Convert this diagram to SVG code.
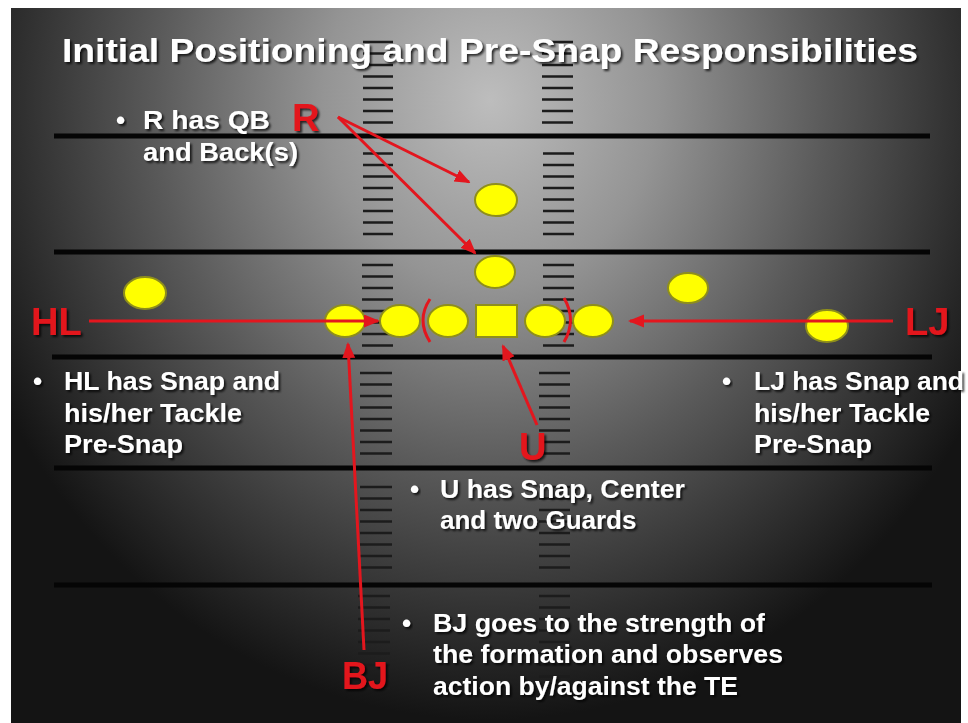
<svg xmlns="http://www.w3.org/2000/svg" width="968" height="723" viewBox="0 0 968 723">
<defs>
  <radialGradient id="bg" gradientUnits="userSpaceOnUse" cx="490" cy="100" r="620" gradientTransform="translate(490 100) scale(0.9 1) translate(-490 -100)">
    <stop offset="0" stop-color="#bdbdbd"/>
    <stop offset="0.3" stop-color="#949494"/>
    <stop offset="0.6" stop-color="#5a5a5a"/>
    <stop offset="0.85" stop-color="#2e2e2e"/>
    <stop offset="1" stop-color="#141414"/>
  </radialGradient>
  <filter id="sh" x="-10%" y="-20%" width="120%" height="150%">
    <feDropShadow dx="2" dy="2" stdDeviation="1.2" flood-color="#000" flood-opacity="0.75"/>
  </filter>
  <marker id="ah" markerUnits="userSpaceOnUse" markerWidth="18" markerHeight="14" refX="14" refY="6.5" orient="auto">
    <path d="M0,0 L16,6.5 L0,13 Z" fill="#e3161e"/>
  </marker>
  <style>
    .yard{stroke:#050505;stroke-width:5}
    .hash{stroke:#1c1c1c;stroke-width:2.5}
    .pl{fill:#ffff00;stroke:#8e8e1c;stroke-width:2}
    .body{font-family:"Liberation Sans",Arial,sans-serif;font-weight:bold;font-size:26px;fill:#ffffff;filter:url(#sh)}
    .lbl{font-family:"Liberation Sans",Arial,sans-serif;font-weight:bold;font-size:38px;fill:#e3161e;filter:url(#sh)}
    .title{font-family:"Liberation Sans",Arial,sans-serif;font-weight:bold;font-size:34px;fill:#ffffff;filter:url(#sh)}
    .con{stroke:#e3161e;stroke-width:3;fill:none}
    .brk{stroke:#e3161e;stroke-width:3;fill:none}
  </style>
</defs>

<rect x="0" y="0" width="968" height="723" fill="#ffffff"/>
<rect x="11" y="8" width="950" height="715" fill="url(#bg)"/>

<g id="field">
  <line class="yard" x1="54" y1="136" x2="930" y2="136"/>
  <line class="yard" x1="54" y1="252" x2="930" y2="252"/>
  <line class="yard" x1="52" y1="357" x2="932" y2="357"/>
  <line class="yard" x1="54" y1="468" x2="932" y2="468"/>
  <line class="yard" x1="54" y1="585" x2="932" y2="585"/>
  <g id="hash-left">
    <path class="hash" d="M363,42H393M363,53.5H393M363,65H393M363,76.5H393M363,88H393M363,99.5H393M363,111H393M363,122.5H393
    M363,153.5H393M363,165H393M363,176.5H393M363,188H393M363,199.5H393M363,211H393M363,222.5H393M363,234H393
    M362,265H393M362,276.5H393M362,288H393M362,299.5H393M362,311H393M362,322.5H393M362,334H393M362,345.5H393
    M360,373H392M360,384.5H392M360,396H392M360,407.5H392M360,419H392M360,430.5H392M360,442H392M360,453.5H392
    M360,487H392M360,498.5H392M360,510H392M360,521.5H392M360,533H392M360,544.5H392M360,556H392M360,567.5H392
    M358,596H390M358,607.5H390M358,619H390M358,630.5H390M358,642H390M358,653.5H390M358,665H390M358,676.5H390M358,688H390"/>
  </g>
  <g id="hash-right">
    <path class="hash" d="M542,42H573M542,53.5H573M542,65H573M542,76.5H573M542,88H573M542,99.5H573M542,111H573M542,122.5H573
    M543,153.5H574M543,165H574M543,176.5H574M543,188H574M543,199.5H574M543,211H574M543,222.5H574M543,234H574
    M543,265H574M543,276.5H574M543,288H574M543,299.5H574M543,311H574M543,322.5H574M543,334H574M543,345.5H574
    M539,373H570M539,384.5H570M539,396H570M539,407.5H570M539,419H570M539,430.5H570M539,442H570M539,453.5H570
    M539,487H570M539,498.5H570M539,510H570M539,521.5H570M539,533H570M539,544.5H570M539,556H570M539,567.5H570
    M539,596H570M539,607.5H570M539,619H570M539,630.5H570M539,642H570M539,653.5H570M539,665H570M539,676.5H570"/>
  </g>
</g>

<g id="title"><text class="title" x="62" y="62" textLength="856" lengthAdjust="spacingAndGlyphs">Initial Positioning and Pre-Snap Responsibilities</text></g>

<g id="players">
  <g id="qb"><ellipse class="pl" cx="496" cy="200" rx="21" ry="16"/></g>
  <g id="back"><ellipse class="pl" cx="495" cy="272" rx="20" ry="16"/></g>
  <g id="wr-left"><ellipse class="pl" cx="145" cy="293" rx="21" ry="16"/></g>
  <g id="wr-right"><ellipse class="pl" cx="688" cy="288" rx="20" ry="15"/></g>
  <g id="te"><ellipse class="pl" cx="345" cy="321" rx="20" ry="16"/></g>
  <g id="tackle-left"><ellipse class="pl" cx="400" cy="321" rx="20" ry="16"/></g>
  <g id="guard-left"><ellipse class="pl" cx="448" cy="321" rx="20" ry="16"/></g>
  <g id="center"><rect class="pl" x="476" y="305" width="41" height="32"/></g>
  <g id="guard-right"><ellipse class="pl" cx="545" cy="321" rx="20" ry="16"/></g>
  <g id="tackle-right"><ellipse class="pl" cx="593" cy="321" rx="20" ry="16"/></g>
  <g id="end-right"><ellipse class="pl" cx="827" cy="326" rx="21" ry="16"/></g>
  <g id="brackets">
    <path class="brk" d="M430,299 Q416,320 430,342"/>
    <path class="brk" d="M564,298 Q577,320 564,342"/>
  </g>
</g>

<g id="labels">
  <g id="lbl-R"><text class="lbl" x="292" y="131">R</text></g>
  <g id="lbl-HL"><text class="lbl" x="31" y="335">HL</text></g>
  <g id="lbl-LJ"><text class="lbl" x="905" y="335">LJ</text></g>
  <g id="lbl-U"><text class="lbl" x="519" y="460">U</text></g>
  <g id="lbl-BJ"><text class="lbl" x="342" y="689" textLength="46" lengthAdjust="spacingAndGlyphs">BJ</text></g>
</g>

<g id="connectors">
  <line class="con" x1="338" y1="117" x2="469" y2="182" marker-end="url(#ah)"/>
  <line class="con" x1="338" y1="117" x2="475" y2="253" marker-end="url(#ah)"/>
  <line class="con" x1="89" y1="321" x2="378" y2="321" marker-end="url(#ah)"/>
  <line class="con" x1="893" y1="321" x2="630" y2="321" marker-end="url(#ah)"/>
  <line class="con" x1="537" y1="425" x2="503" y2="346" marker-end="url(#ah)"/>
  <line class="con" x1="364" y1="650" x2="348" y2="344" marker-end="url(#ah)"/>
</g>

<g id="note-R">
  <text class="body" x="116" y="129">•</text>
  <text class="body" x="143" y="129" textLength="127" lengthAdjust="spacingAndGlyphs">R has QB</text>
  <text class="body" x="143" y="161" textLength="155" lengthAdjust="spacingAndGlyphs">and Back(s)</text>
</g>
<g id="note-HL">
  <text class="body" x="33" y="390">•</text>
  <text class="body" x="64" y="390" textLength="216" lengthAdjust="spacingAndGlyphs">HL has Snap and</text>
  <text class="body" x="64" y="422" textLength="178" lengthAdjust="spacingAndGlyphs">his/her Tackle</text>
  <text class="body" x="64" y="453" textLength="119" lengthAdjust="spacingAndGlyphs">Pre-Snap</text>
</g>
<g id="note-LJ">
  <text class="body" x="722" y="390">•</text>
  <text class="body" x="754" y="390" textLength="210" lengthAdjust="spacingAndGlyphs">LJ has Snap and</text>
  <text class="body" x="754" y="422" textLength="176" lengthAdjust="spacingAndGlyphs">his/her Tackle</text>
  <text class="body" x="754" y="453" textLength="118" lengthAdjust="spacingAndGlyphs">Pre-Snap</text>
</g>
<g id="note-U">
  <text class="body" x="410" y="498">•</text>
  <text class="body" x="440" y="498" textLength="245" lengthAdjust="spacingAndGlyphs">U has Snap, Center</text>
  <text class="body" x="440" y="529">and two Guards</text>
</g>
<g id="note-BJ">
  <text class="body" x="402" y="632">•</text>
  <text class="body" x="433" y="632" textLength="332" lengthAdjust="spacingAndGlyphs">BJ goes to the strength of</text>
  <text class="body" x="433" y="663" textLength="350" lengthAdjust="spacingAndGlyphs">the formation and observes</text>
  <text class="body" x="433" y="695" textLength="305" lengthAdjust="spacingAndGlyphs">action by/against the TE</text>
</g>
</svg>
